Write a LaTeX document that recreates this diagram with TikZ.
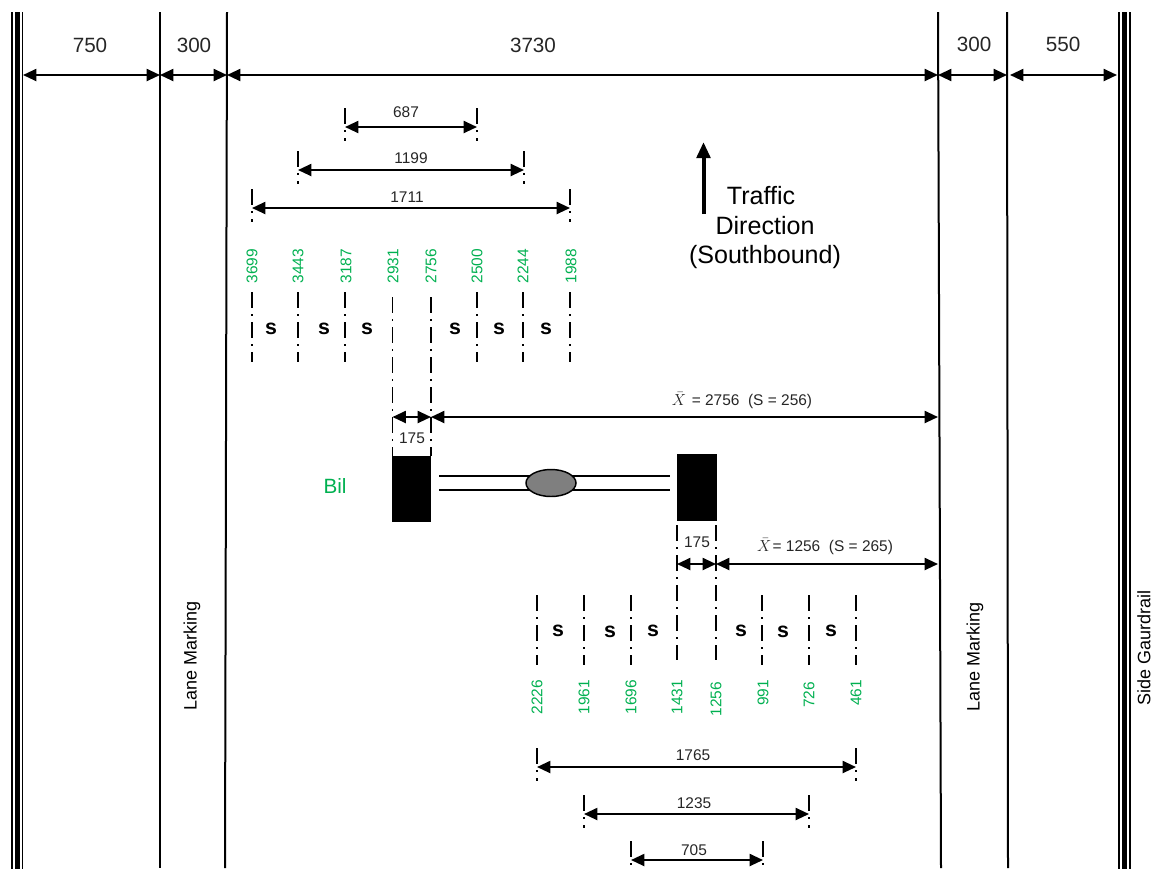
\documentclass[tikz,border=0pt]{standalone}
\usepackage{fontspec}
\setmainfont{Liberation Sans}
\usetikzlibrary{arrows.meta}
\definecolor{labgreen}{HTML}{00B050}
\definecolor{labdark}{HTML}{262626}
\definecolor{axle}{HTML}{7F7F7F}
\tikzset{
  road/.style={line width=1.5pt,black},
  dimline/.style={line width=1.5pt,black,{Triangle[length=10pt,width=9pt]}-{Triangle[length=10pt,width=9pt]}},
  extline/.style={line width=1.4pt,black,dash pattern=on 12pt off 4.5pt on 1.5pt off 4.5pt},
  widthlab/.style={font=\fontsize{15.5}{18}\selectfont,text=labdark,inner sep=0pt},
  dimlab/.style={font=\fontsize{11.6}{13}\selectfont,text=labdark,inner sep=0pt},
  greenlab/.style={font=\fontsize{11.6}{13}\selectfont,text=labgreen,inner sep=0pt,rotate=90},
  slab/.style={font=\bfseries\fontsize{16}{18}\selectfont,text=black,inner sep=0pt},
  sidelab/.style={font=\fontsize{13.5}{16}\selectfont,text=black,inner sep=0pt,rotate=90},
  traffic/.style={font=\fontsize{18.8}{22}\selectfont,inner sep=0pt},
  wheel/.style={fill=black,draw=none},
}
\begin{document}
\begin{tikzpicture}[x=0.75pt,y=-0.75pt]
\useasboundingbox (0,0) rectangle (1153,869);
% road edges
\draw[line width=0.9pt] (12,12) -- (12,869);
\draw[line width=3.8pt] (17.5,12) -- (17.5,869);
\draw[line width=0.9pt] (22.5,12) -- (22.5,869);
\draw[line width=1.5pt] (1119,12) -- (1119,869);
\draw[line width=3.8pt] (1124.5,12) -- (1124.5,869);
\draw[line width=1.5pt] (1130,12) -- (1130,869);
% lane lines
\coordinate (la) at (160,12);  \coordinate (lab) at (160,868);
\coordinate (lb) at (227,12);  \coordinate (lbb) at (225,868);
\coordinate (lc) at (938,12);  \coordinate (lcb) at (941,868);
\coordinate (ld) at (1007,12); \coordinate (ldb) at (1008,868);
\draw[road] (la) -- (lab);
\draw[road] (lb) -- (lbb);
\draw[road] (lc) -- (lcb);
\draw[road] (ld) -- (ldb);
% top widths
\coordinate (w0) at (23,75); \coordinate (w1) at (160,75); \coordinate (w2) at (227,75);
\coordinate (w3) at (938,75); \coordinate (w4) at (1007,75); \coordinate (w5) at (1010,75); \coordinate (w6) at (1117,75);
\draw[dimline] (w0) -- (w1);
\draw[dimline] (w1) -- (w2);
\draw[dimline] (w2) -- (w3);
\draw[dimline] (w3) -- (w4);
\draw[dimline] (w5) -- (w6);
\node[widthlab] (t750) at (90,45) {750};
\node[widthlab] (t300a) at (194,45) {300};
\node[widthlab] (t3730) at (533,45) {3730};
\node[widthlab] (t300b) at (974,44) {300};
\node[widthlab] (t550) at (1063,44) {550};
% side labels
\node[sidelab] (lm1) at (192,656) {Lane Marking};
\node[sidelab] (lm2) at (975,657) {Lane Marking};
\node[sidelab] (sg) at (1144,648) {Side Gaurdrail};
% top spread dims
\foreach \n/\xa/\xb/\yy/\lab/\lx/\ly in {a/345/477/127/687/406/112, b/298/524/170/1199/411/158, c/252/570/208/1711/407/197,
  d/537/856/767/1765/693/755, e/584/809/814/1235/694/803, f/631/763/860/705/694/850}{
  \coordinate (\n1) at (\xa,\yy);
  \coordinate (\n2) at (\xb,\yy);
  \draw[extline] (\xa,\yy-19) -- (\xa,\yy+14);
  \draw[extline] (\xb,\yy-19) -- (\xb,\yy+14);
  \draw[dimline] (\n1) -- (\n2);
  \node[dimlab] (lab\n) at (\lx,\ly) {\lab};
}
% green labels top
\foreach \x/\v in {252/3699,298/3443,346/3187,393/2931,431/2756,477/2500,523/2244,571/1988}{
  \node[greenlab] (g\v) at (\x,266) {\v};
}
% green labels bottom
\foreach \x/\v/\yy in {537/2226/697,584/1961/697,631/1696/697,677/1431/697,716/1256/699,763/991/693,809/726/695,856/461/693}{
  \node[greenlab] (h\v) at (\x,\yy) {\v};
}
% extension columns
\foreach \x in {252,298,345,477,523,570}{ \draw[extline] (\x,292) -- (\x,362); }
\foreach \x in {392.5,431}{ \draw[extline] (\x,297) -- (\x,456); }
\foreach \x in {537,584,631,762,809,856}{ \draw[extline] (\x,595) -- (\x,665); }
\foreach \x in {677,716}{ \draw[extline] (\x,525) -- (\x,660); }
% s labels
\foreach \x/\y [count=\i] in {271/329,324/329,367/329,455/329,499/329,546/329,558/631,610/632,653/631,741/631,783/632,831/631}{
  \node[slab] (s\i) at (\x,\y) {s};
}
% traffic arrow
\coordinate (ta) at (703.5,214); \coordinate (tb) at (703.5,142);
\draw[line width=3pt,-{Triangle[length=12pt,width=10pt]}] (ta) -- (tb);
\node[traffic] (tt1) at (761,196) {Traffic};
\node[traffic] (tt2) at (765,226) {Direction};
\node[traffic] (tt3) at (765,257) {(Southbound)};
% vehicle
\draw[line width=1.2pt] (439,476) -- (670,476);
\draw[line width=1.2pt] (439,490) -- (670,490);
\fill[wheel] (392,456) rectangle (431,522);
\fill[wheel] (677,454) rectangle (717,521);
\draw[fill=axle,line width=1.1pt] (551,483) ellipse [x radius=25,y radius=13.5];
\node[font=\fontsize{15.5}{18}\selectfont,text=labgreen,inner sep=0pt] (bil) at (335,486) {Bil};
% offset dims
\coordinate (o1) at (392.5,417); \coordinate (o2) at (431,417); \coordinate (o3) at (938,417);
\coordinate (p1) at (677,564); \coordinate (p2) at (716,564); \coordinate (p3) at (938,564);
\draw[dimline] (o1) -- (o2);
\draw[dimline] (o2) -- (o3);
\draw[dimline] (p1) -- (p2);
\draw[dimline] (p2) -- (p3);
\node[dimlab] (l175a) at (412,438) {175};
\node[dimlab] (l175b) at (697,542) {175};
\node[dimlab] (mean1) at (742,401) {$\bar{X}$\kern1pt{} = 2756 \ (S = 256)};
\node[dimlab] (mean2) at (825,547) {$\bar{X}$\kern1pt= 1256 \ (S = 265)};
\end{tikzpicture}
\end{document}
